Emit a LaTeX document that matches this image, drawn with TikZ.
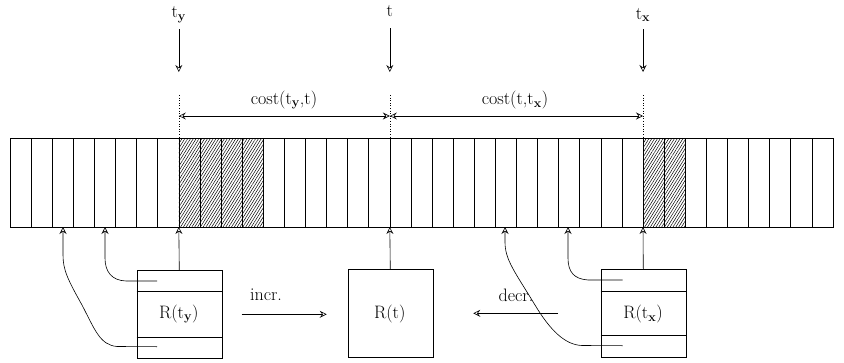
\documentclass[tikz,border=0pt]{standalone}
\usetikzlibrary{arrows.meta,patterns.meta,calc}
\begin{document}
\begin{tikzpicture}[x=1pt,y=-1pt,line width=0.6pt,
  tip/.style={-{Stealth[open,length=7pt,width=7pt,inset=2.5pt]}},
  dtip/.style={{Stealth[open,length=7pt,width=7pt,inset=2.5pt]}-{Stealth[open,length=7pt,width=7pt,inset=2.5pt]}},
  lbl/.style={font=\fontsize{18}{21}\selectfont,inner sep=0pt},
  regbox/.style={draw,anchor=north west,inner sep=0pt,minimum width=85pt,minimum height=87.5pt},
  hatch/.style={pattern={Lines[angle=58,distance=2.4pt,line width=0.5pt]}}]
\useasboundingbox (0,0) rectangle (844,362);
% strip
\def\cw{21.1}
\foreach \i in {8,9,10,11,30,31}{
  \fill[hatch] ({10+\i*\cw},138) rectangle ({10+(\i+1)*\cw},227);
}
\foreach \i in {0,...,38}{
  \draw ({10+\i*\cw},138) rectangle ({10+(\i+1)*\cw},227);
}
% coordinates on strip
\coordinate (sTy) at (178.8,138);
\coordinate (sT) at (389.8,138);
\coordinate (sTx) at (643,138);
\coordinate (bTy) at (178.8,227);
\coordinate (bT) at (389.8,227);
\coordinate (bTx) at (643,227);
\coordinate (b1) at (63,227);
\coordinate (b2) at (105,227);
\coordinate (b3) at (505,227);
\coordinate (b4) at (568,227);
% top labels and arrows
\node[lbl] (lty) at (178.8,15) {t\textsubscript{\bfseries y}};
\node[lbl] (lt) at (389.8,11) {t};
\node[lbl] (ltx) at (643,15) {t\textsubscript{\bfseries x}};
\coordinate (aty) at (178.8,72);
\coordinate (at) at (389.8,72);
\coordinate (atx) at (643,72);
\draw[tip] (178.8,29) -- (aty);
\draw[tip] (389.8,28) -- (at);
\draw[tip] (643,29) -- (atx);
% dotted guides
\coordinate (dty) at (178.8,95);
\coordinate (dt) at (389.8,95);
\coordinate (dtx) at (643,95);
\draw[dotted] (dty) -- (sTy);
\draw[dotted] (dt) -- (sT);
\draw[dotted] (dtx) -- (sTx);
% cost arrows
\coordinate (cty) at (178.8,116);
\coordinate (ct) at (389.8,116);
\coordinate (ctx) at (643,116);
\draw[dtip] (cty) -- (ct);
\draw[dtip] (ct) -- (ctx);
\node[lbl] (c1) at (284,100) {cost(t\textsubscript{\bfseries y},t)};
\node[lbl] (c2) at (515,100) {cost(t,t\textsubscript{\bfseries x})};
% boxes
\node[regbox] (Ry) at (136.5,270) {};
\node[lbl] (Ryl) at (178.8,314) {R(t\textsubscript{\bfseries y})};
\draw ($(Ry.north west)+(0,21.7)$) -- ($(Ry.north east)+(0,21.7)$);
\draw ($(Ry.south west)+(0,-20.7)$) -- ($(Ry.south east)+(0,-20.7)$);
\node[regbox] (Rt) at (347.5,269.3) {};
\node[lbl] (Rtl) at (389.8,314) {R(t)};
\node[regbox] (Rx) at (600.5,269.3) {};
\node[lbl] (Rxl) at (643,314) {R(t\textsubscript{\bfseries x})};
\draw ($(Rx.north west)+(0,21.7)$) -- ($(Rx.north east)+(0,21.7)$);
\draw ($(Rx.south west)+(0,-21.7)$) -- ($(Rx.south east)+(0,-21.7)$);
% box-to-strip arrows
\draw[tip] (Ry.north) -- (bTy);
\draw[tip] (Rt.north) -- (bT);
\draw[tip] (Rx.north) -- (bTx);
% curves from R(t_y)
\coordinate (p1) at (157,281);
\coordinate (p2) at (157,346.7);
\draw[tip] (p1) -- (126,281) .. controls (112,280.5) and (105,272) .. (105,258) -- (b2);
\draw[tip] (p2) -- (117,346.5) .. controls (100,345) and (95,330) .. (82,305) .. controls (68,280) and (63,270) .. (63,255) -- (b1);
% curves from R(t_x)
\coordinate (q1) at (622.7,280);
\coordinate (q2) at (622.7,345.7);
\draw[tip] (q1) -- (588,280) .. controls (574,279) and (568,272) .. (568,258) -- (b4);
\draw[tip] (q2) -- (582,345.5) .. controls (565,345) and (550,330) .. (535,305) .. controls (515,272) and (505,260) .. (505,242) -- (b3);
% incr / decr
\coordinate (i1) at (241.7,314.3);
\coordinate (i2) at (326.7,314.3);
\draw[tip] (i1) -- (i2);
\node[lbl] (incr) at (266,295) {incr.};
\coordinate (d1) at (558,313.3);
\coordinate (d2) at (473.3,313.3);
\draw[tip] (d1) -- (d2);
\node[lbl] (decr) at (516,295) {decr.};
\end{tikzpicture}
\end{document}
